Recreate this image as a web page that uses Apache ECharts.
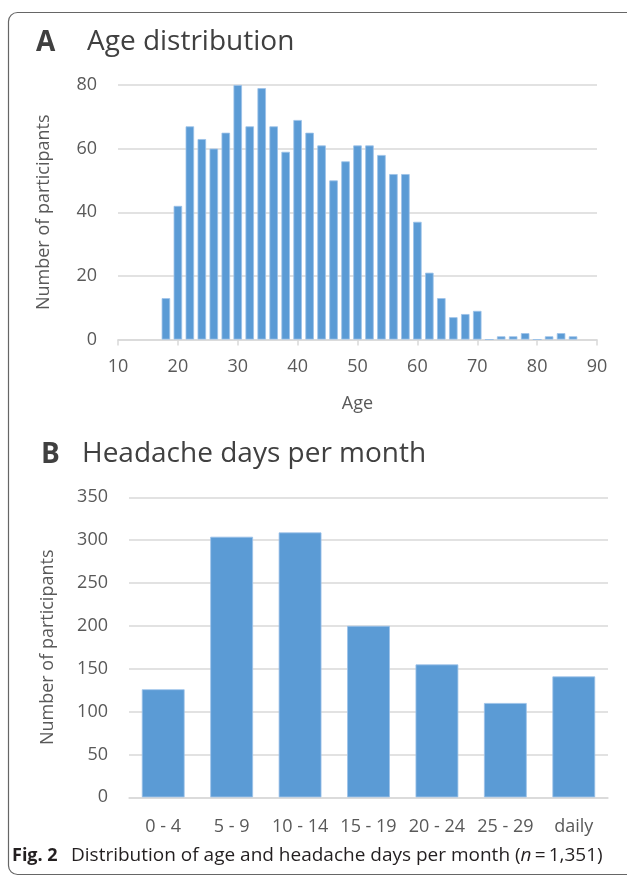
<!DOCTYPE html>
<html>
<head>
<meta charset="utf-8">
<script src="https://cdn.jsdelivr.net/npm/echarts@6/dist/echarts.min.js"></script>
<style>
html,body{margin:0;padding:0;background:#fff;}
#chart{width:627px;height:877px;}
</style>
</head>
<body>
<div id="chart"></div>
<script>
// Panel A: age distribution (2-year bins, bin centre age)
const ageBins = [18,20,22,24,26,28,30,32,34,36,38,40,42,44,46,48,50,52,54,56,58,60,62,64,66,68,70,72,74,76,78,80,82,84,86];
const ageCounts = [13,42,67,63,60,65,80,67,79,67,59,69,65,61,50,56,61,61,58,52,52,37,21,13,7,8,9,0,1,1,2,0,1,2,1];
// Panel B: headache days per month
const dayCategories = ['0 - 4','5 - 9','10 - 14','15 - 19','20 - 24','25 - 29','daily'];
const dayCounts = [126,304,309,200,155,110,141];

const FONT = 'Open Sans';
const LABEL = '#595959';
const GRID = '#d9d9d9';
const BAR = '#5b9bd5';

const chart = echarts.init(document.getElementById('chart'), null, {renderer:'canvas'});
chart.setOption({
  backgroundColor:'#fff',
  animation:false,
  textStyle:{fontFamily:FONT},
  graphic:[
    {type:'rect', shape:{x:8.5, y:12.5, width:640, height:862, r:9}, style:{fill:'none', stroke:'#666', lineWidth:1.2}},
    {type:'text', left:36, top:29, style:{text:'A', font:'bold 28px "Open Sans"', fill:'#404040'}},
    {type:'text', left:87, top:28, style:{text:'Age distribution', font:'28px "Open Sans"', fill:'#404040'}},
    {type:'text', left:41, top:441, style:{text:'B', font:'bold 28px "Open Sans"', fill:'#404040'}},
    {type:'text', left:82, top:440, style:{text:'Headache days per month', font:'28px "Open Sans"', fill:'#404040'}},
    {type:'text', left:12, top:847, style:{text:'Fig. 2', font:'bold 18px "Open Sans"', fill:'#231f20'}},
    {type:'text', left:71, top:846, style:{rich:{
      n:{fontFamily:FONT, fontSize:19, fill:'#231f20'},
      i:{fontFamily:FONT, fontSize:19, fontStyle:'italic', fill:'#231f20'}
    }, text:'{n|Distribution of age and headache days per month (}{i|n}{n|\u2009=\u20091,351)}'}}
  ],
  grid:[
    {left:118, top:85, width:479, height:254.5},
    {left:129, top:497.3, width:479, height:300}
  ],
  xAxis:[
    {type:'value', gridIndex:0, min:10, max:90, interval:10,
     name:'Age', nameLocation:'middle', nameGap:55,
     nameTextStyle:{color:LABEL, fontSize:18, fontFamily:FONT},
     axisLine:{show:true, lineStyle:{color:GRID, width:1.5}},
     axisTick:{show:true, length:6, lineStyle:{color:GRID, width:1.5}},
     splitLine:{show:false},
     axisLabel:{color:LABEL, fontSize:18, fontFamily:FONT, margin:18}},
    {type:'category', gridIndex:1, data:dayCategories,
     axisLine:{show:true, lineStyle:{color:GRID, width:1.5}},
     axisTick:{show:false},
     axisLabel:{color:LABEL, fontSize:18, fontFamily:FONT, margin:21, interval:0}}
  ],
  yAxis:[
    {type:'value', gridIndex:0, min:0, max:80, interval:20,
     name:'Number of participants', nameLocation:'middle', nameGap:65,
     nameTextStyle:{color:LABEL, fontSize:18, fontFamily:FONT},
     axisLine:{show:false}, axisTick:{show:false},
     splitLine:{lineStyle:{color:GRID, width:1.5}},
     axisLabel:{color:LABEL, fontSize:18, fontFamily:FONT, margin:21}},
    {type:'value', gridIndex:1, min:0, max:350, interval:50,
     name:'Number of participants', nameLocation:'middle', nameGap:72,
     nameTextStyle:{color:LABEL, fontSize:18, fontFamily:FONT},
     axisLine:{show:false}, axisTick:{show:false},
     splitLine:{lineStyle:{color:GRID, width:1.5}},
     axisLabel:{color:LABEL, fontSize:18, fontFamily:FONT, margin:21}}
  ],
  series:[
    {type:'bar', xAxisIndex:0, yAxisIndex:0, barWidth:8.5,
     data: ageBins.map((a,i)=>[a, ageCounts[i]]),
     itemStyle:{color:BAR, borderColor:'#9cc2e8', borderWidth:0.8}},
    {type:'bar', xAxisIndex:1, yAxisIndex:1, barCategoryGap:'37.5%',
     data: dayCounts,
     itemStyle:{color:BAR, borderColor:'#9cc2e8', borderWidth:0.8}}
  ]
});
</script>
</body>
</html>
